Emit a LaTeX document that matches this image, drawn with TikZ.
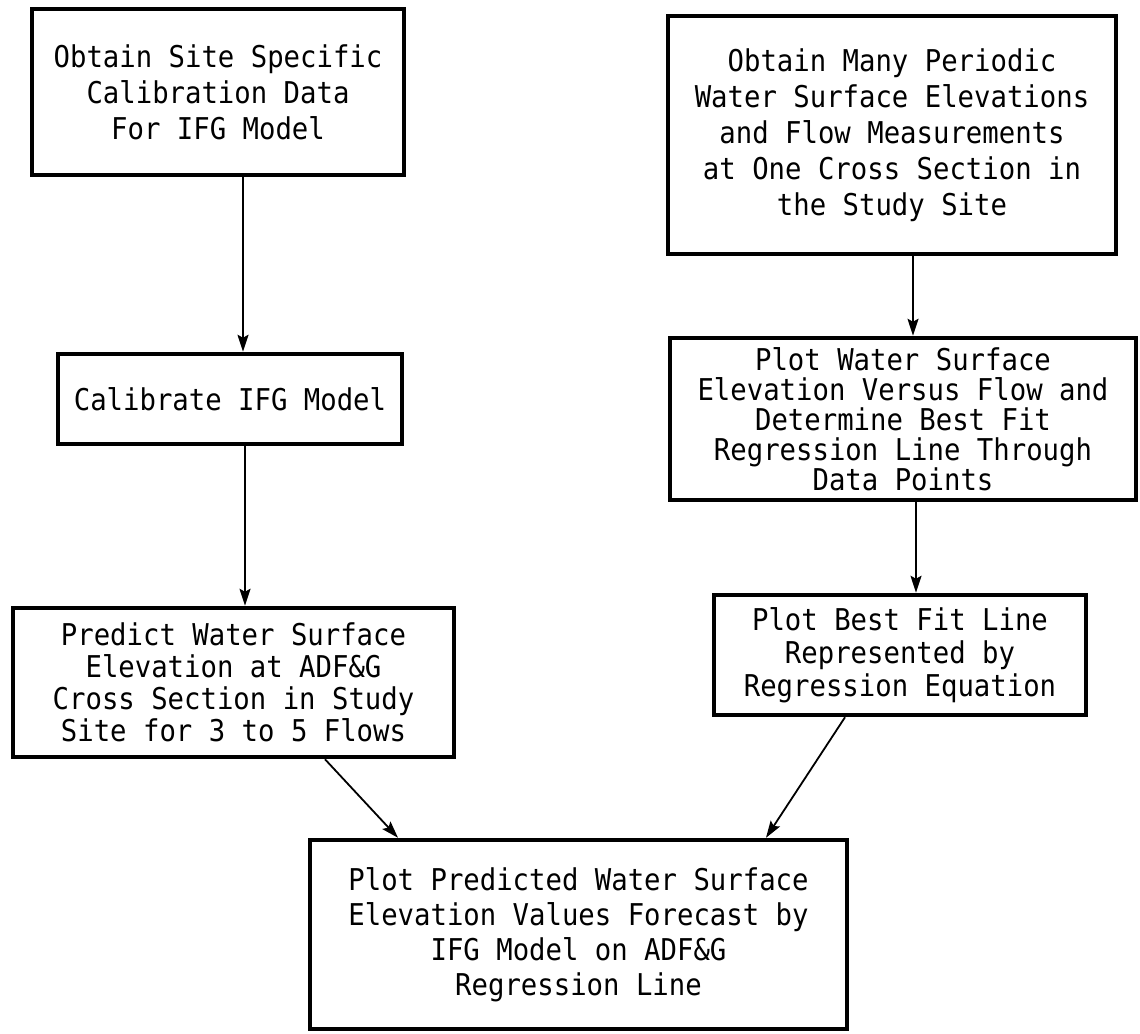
\documentclass[tikz,border=0pt]{standalone}
\usepackage{fontspec}
\newfontfamily\tw[FakeStretch=0.91]{DejaVu Sans Mono}
\usetikzlibrary{arrows.meta,calc}
\begin{document}
\begin{tikzpicture}[x=1pt,y=-1pt,
  box/.style={draw,line width=4.5pt,inner sep=0pt,align=center,
    font=\tw\fontsize{30}{35}\selectfont},
  arr/.style={line width=1.8pt,-{Stealth[length=17pt,width=11pt,inset=3pt]}}]
\useasboundingbox (0,0) rectangle (1140,1033);
\fill[white] (0,0) rectangle (1140,1033);

\node[box,minimum width=372pt,minimum height=166pt,
  font=\tw\fontsize{30}{36}\selectfont] (b1) at (218,92)
  {Obtain Site Specific\\Calibration Data\\For IFG Model};
\node[box,minimum width=344pt,minimum height=90pt] (b2) at (230,399)
  {Calibrate IFG Model};
\node[box,minimum width=441pt,minimum height=149pt,
  font=\tw\fontsize{30}{32}\selectfont] (b6) at (233.5,682.5)
  {Predict Water Surface\\Elevation at ADF\&G\\Cross Section in Study\\Site for 3 to 5 Flows};
\node[box,minimum width=448pt,minimum height=238pt,
  font=\tw\fontsize{30}{36}\selectfont] (b3) at (892,135)
  {Obtain Many Periodic\\Water Surface Elevations\\and Flow Measurements\\at One Cross Section in\\the Study Site};
\node[box,minimum width=466pt,minimum height=162pt,
  font=\tw\fontsize{30}{30}\selectfont] (b4) at (903,419)
  {Plot Water Surface\\Elevation Versus Flow and\\Determine Best Fit\\Regression Line Through\\Data Points};
\node[box,minimum width=372pt,minimum height=120pt,
  font=\tw\fontsize{30}{33}\selectfont] (b5) at (900,655)
  {Plot Best Fit Line\\Represented by\\Regression Equation};
\node[box,minimum width=537pt,minimum height=189pt,
  font=\tw\fontsize{30}{35}\selectfont] (b7) at (578.5,934.5)
  {Plot Predicted Water Surface\\Elevation Values Forecast by\\IFG Model on ADF\&G\\Regression Line};

\draw[arr] ([xshift=25pt]b1.south) -- ([xshift=13pt]b2.north);
\draw[arr] ([xshift=15pt]b2.south) -- ([xshift=11.5pt]b6.north);
\draw[arr] ([xshift=91.5pt]b6.south) -- ([xshift=-180.5pt]b7.north);
\draw[arr] ([xshift=21pt]b3.south) -- ([xshift=10pt]b4.north);
\draw[arr] ([xshift=13pt]b4.south) -- ([xshift=16pt]b5.north);
\draw[arr] ([xshift=-55pt]b5.south) -- ([xshift=187.5pt]b7.north);
\end{tikzpicture}
\end{document}
